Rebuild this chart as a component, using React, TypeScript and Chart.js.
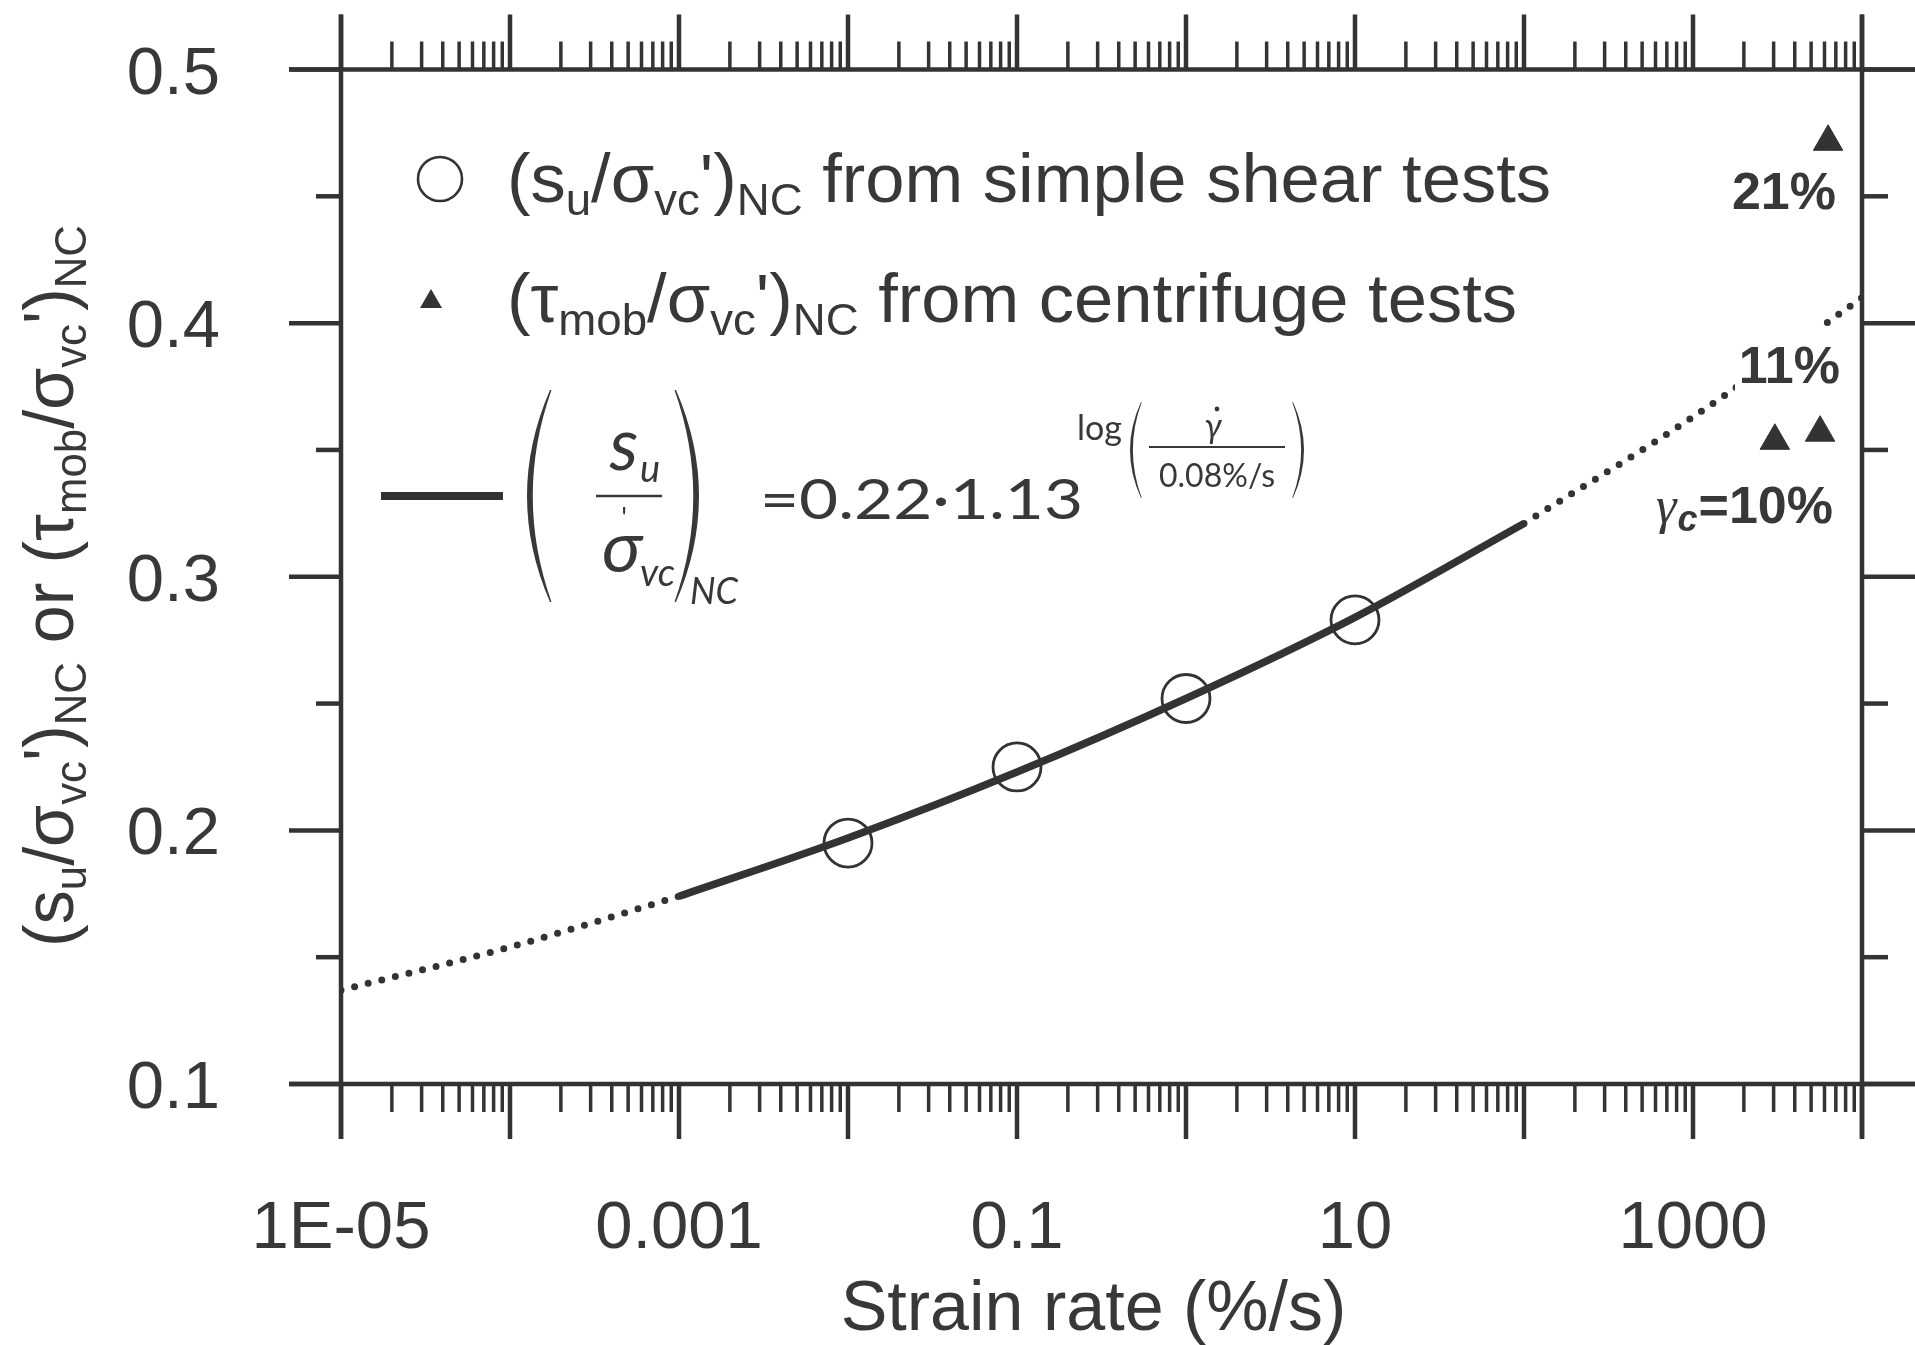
import React, { useEffect, useRef } from "react";
import { Chart, registerables } from "chart.js";

Chart.register(...registerables);

// ---------- data ----------
const X_MIN = 1e-5;
const X_MAX = 1e4;
const Y_MIN = 0.1;
const Y_MAX = 0.5;
const Y_MAJOR_TICKS = [0.1, 0.2, 0.3, 0.4, 0.5];
const Y_MINOR_TICKS = [0.15, 0.25, 0.35, 0.45];
const Y_TICK_LABELS = ["0.1", "0.2", "0.3", "0.4", "0.5"];
const X_DECADES = [-5, -4, -3, -2, -1, 0, 1, 2, 3, 4];
const X_LABEL_VALUES = [1e-5, 1e-3, 1e-1, 10, 1000];
const X_LABEL_TEXTS = ["1E-05", "0.001", "0.1", "10", "1000"];

// fitted curve (dotted / solid / dotted parts)
const FIT_LOW_X = [1e-5, 1e-4, 1e-3];
const FIT_LOW_Y = [0.137, 0.154, 0.174];
const FIT_MID_X = [1e-3, 1e-2, 1e-1, 1, 10, 100];
const FIT_MID_Y = [0.174, 0.197, 0.223, 0.252, 0.284, 0.321];
const FIT_HIGH_X = [100, 1000, 1e4];
const FIT_HIGH_Y = [0.321, 0.363, 0.41];

// simple shear tests (open circles)
const SS_X = [0.01, 0.1, 1, 10];
const SS_Y = [0.195, 0.225, 0.252, 0.283];

// centrifuge tests (filled triangles)
const CF_X = [6300, 3050, 5650];
const CF_Y = [0.4715, 0.3536, 0.3568];

const X_TITLE = "Strain rate (%/s)";

// ---------- drawing helpers ----------
const INK = "#333333";
const TXT = "#383838";
const SANS = "'Liberation Sans', Arial, sans-serif";
const MATH = "Lato, 'Open Sans', sans-serif";

type Run = { t: string; k?: "sub" | "sup" };

function measureRich(ctx: CanvasRenderingContext2D, runs: Run[], size: number, sub: number, family: string) {
  let w = 0;
  for (const r of runs) {
    ctx.font = `${r.k ? sub : size}px ${family}`;
    w += ctx.measureText(r.t).width;
  }
  return w;
}

function drawRich(
  ctx: CanvasRenderingContext2D,
  runs: Run[],
  x: number,
  y: number,
  size: number,
  sub: number,
  subShift: number,
  family: string,
  targetWidth?: number
) {
  const w = measureRich(ctx, runs, size, sub, family);
  const sx = targetWidth ? targetWidth / w : 1;
  ctx.save();
  ctx.translate(x, y);
  ctx.scale(sx, 1);
  ctx.textAlign = "left";
  ctx.textBaseline = "alphabetic";
  let cx = 0;
  for (const r of runs) {
    ctx.font = `${r.k ? sub : size}px ${family}`;
    const dy = r.k === "sub" ? subShift : r.k === "sup" ? -size * 0.4 : 0;
    ctx.fillText(r.t, cx, dy);
    cx += ctx.measureText(r.t).width;
  }
  ctx.restore();
}

function line(ctx: CanvasRenderingContext2D, x1: number, y1: number, x2: number, y2: number) {
  ctx.beginPath();
  ctx.moveTo(x1, y1);
  ctx.lineTo(x2, y2);
  ctx.stroke();
}

function paren(ctx: CanvasRenderingContext2D, xEnd: number, yTop: number, yBot: number, bulge: number, thick: number) {
  const ym = (yTop + yBot) / 2;
  const s = Math.sign(bulge);
  ctx.beginPath();
  ctx.moveTo(xEnd, yTop);
  ctx.quadraticCurveTo(xEnd + 2 * bulge, ym, xEnd, yBot);
  ctx.lineTo(xEnd - s * thick * 0.3, yBot);
  ctx.quadraticCurveTo(xEnd + 2 * bulge - 2 * thick * s, ym, xEnd - s * thick * 0.3, yTop);
  ctx.closePath();
  ctx.fill();
}

const decorPlugin = {
  id: "decor",
  afterDraw(chart: any) {
    const ctx: CanvasRenderingContext2D = chart.ctx;
    const { left, right, top, bottom } = chart.chartArea;
    const xs = chart.scales.x;
    const ys = chart.scales.y;
    const W = chart.width;
    ctx.save();
    ctx.strokeStyle = INK;
    ctx.fillStyle = INK;
    ctx.lineCap = "butt";

    // frame
    ctx.lineWidth = 4.5;
    line(ctx, left - 52, top, W, top);
    line(ctx, left - 52, bottom, W, bottom);
    line(ctx, left, top - 55, left, bottom + 55);
    line(ctx, right, top - 55, right, bottom + 55);

    // x ticks (log decades with minor ticks)
    for (const d of X_DECADES) {
      for (let k = 1; k <= 9; k++) {
        const v = k * Math.pow(10, d);
        if (v > X_MAX * 1.0001) break;
        const px = xs.getPixelForValue(v);
        const len = k === 1 ? 55 : 28;
        ctx.lineWidth = k === 1 ? 4.5 : 3.5;
        line(ctx, px, bottom, px, bottom + len);
        line(ctx, px, top, px, top - len);
      }
    }
    // y ticks
    ctx.lineWidth = 4.5;
    for (const v of Y_MAJOR_TICKS) {
      const py = ys.getPixelForValue(v);
      line(ctx, left - 52, py, left, py);
      line(ctx, right, py, W, py);
    }
    for (const v of Y_MINOR_TICKS) {
      const py = ys.getPixelForValue(v);
      line(ctx, left - 25, py, left, py);
      line(ctx, right, py, right + 26, py);
    }

    // tick labels
    ctx.fillStyle = TXT;
    ctx.textBaseline = "alphabetic";
    ctx.font = `67px ${SANS}`;
    ctx.textAlign = "right";
    Y_MAJOR_TICKS.forEach((v, i) => {
      ctx.fillText(Y_TICK_LABELS[i], 220, ys.getPixelForValue(v) + 24);
    });
    ctx.font = `67px ${SANS}`;
    ctx.textAlign = "center";
    X_LABEL_VALUES.forEach((v, i) => {
      ctx.fillText(X_LABEL_TEXTS[i], xs.getPixelForValue(v), 1248);
    });

    // x title
    ctx.font = `70px ${SANS}`;
    ctx.textAlign = "center";
    ctx.fillText(X_TITLE, (left + right) / 2 - 8, 1330);

    // y title (rotated, with subscripts)
    const yRuns: Run[] = [
      { t: "(s" }, { t: "u", k: "sub" }, { t: "/σ" }, { t: "vc", k: "sub" }, { t: "')" }, { t: "NC", k: "sub" },
      { t: " or (τ" }, { t: "mob", k: "sub" }, { t: "/σ" }, { t: "vc", k: "sub" }, { t: "')" }, { t: "NC", k: "sub" },
    ];
    const yLen = 722;
    ctx.save();
    ctx.translate(73, 586);
    ctx.rotate(-Math.PI / 2);
    drawRich(ctx, yRuns, -yLen / 2, 0, 70, 45, 13, SANS, yLen);
    ctx.restore();

    // legend
    const l1: Run[] = [
      { t: "(s" }, { t: "u", k: "sub" }, { t: "/σ" }, { t: "vc", k: "sub" }, { t: "')" }, { t: "NC", k: "sub" },
      { t: " from simple shear tests" },
    ];
    const l2: Run[] = [
      { t: "(τ" }, { t: "mob", k: "sub" }, { t: "/σ" }, { t: "vc", k: "sub" }, { t: "')" }, { t: "NC", k: "sub" },
      { t: " from centrifuge tests" },
    ];
    drawRich(ctx, l1, 507, 202, 68, 44, 13, SANS, 1044);
    drawRich(ctx, l2, 507, 322, 68, 44, 13, SANS, 1010);

    // legend markers
    ctx.lineWidth = 2.6;
    ctx.strokeStyle = INK;
    ctx.fillStyle = "#ffffff";
    ctx.beginPath();
    ctx.arc(440, 179, 22, 0, Math.PI * 2);
    ctx.fill();
    ctx.stroke();
    ctx.fillStyle = INK;
    ctx.beginPath();
    ctx.moveTo(431, 289);
    ctx.lineTo(442, 308);
    ctx.lineTo(420, 308);
    ctx.closePath();
    ctx.fill();

    // legend line + formula
    ctx.lineWidth = 8;
    line(ctx, 381, 496, 503, 496);
    ctx.fillStyle = TXT;
    paren(ctx, 550, 390, 602, -23, 5);
    paren(ctx, 676, 390, 602, 23, 5);
    ctx.textAlign = "center";
    ctx.font = `italic 72px ${MATH}`;
    ctx.fillText("s", 624, 470);
    ctx.textAlign = "left";
    ctx.font = `italic 38px ${MATH}`;
    ctx.fillText("u", 640, 482);
    ctx.lineWidth = 2.4;
    ctx.strokeStyle = TXT;
    line(ctx, 596, 496, 662, 496);
    ctx.font = `28px ${MATH}`;
    ctx.textAlign = "center";
    ctx.fillText("'", 624, 528);
    ctx.font = `italic 72px ${MATH}`;
    ctx.fillText("σ", 622, 572);
    ctx.textAlign = "left";
    ctx.font = `italic 38px ${MATH}`;
    ctx.fillText("vc", 640, 586);
    ctx.font = `italic 36px ${MATH}`;
    ctx.fillText("NC", 690, 604);
    ctx.font = `56px ${MATH}`;
    {
      const t = "=0.22·1.13";
      const w = ctx.measureText(t).width;
      ctx.save();
      ctx.translate(760, 519);
      ctx.scale(323 / w, 1);
      ctx.fillText(t, 0, 0);
      ctx.restore();
    }
    ctx.font = `34px ${MATH}`;
    ctx.fillText("log", 1077, 440);
    paren(ctx, 1141, 402, 498, -11, 2.5);
    paren(ctx, 1293, 402, 498, 11, 2.5);
    ctx.textAlign = "center";
    ctx.font = `italic 34px ${MATH}`;
    ctx.fillText("γ", 1213, 438);
    ctx.beginPath();
    ctx.arc(1217, 409, 2.4, 0, Math.PI * 2);
    ctx.fill();
    ctx.lineWidth = 2;
    line(ctx, 1149, 447, 1285, 447);
    ctx.font = `32px ${MATH}`;
    ctx.fillText("0.08%/s", 1217, 487);

    // centrifuge annotations
    ctx.textAlign = "right";
    ctx.font = `bold 52px ${SANS}`;
    const yT = ys.getPixelForValue(CF_Y[0]);
    ctx.fillText("21%", right - 26, yT + 67);
    const yPair = ys.getPixelForValue((CF_Y[1] + CF_Y[2]) / 2);
    // white box behind "11%" masks the dotted fit line, as in the figure
    ctx.save();
    ctx.fillStyle = "#ffffff";
    ctx.fillRect(1735, 326, 96, 74);
    ctx.restore();
    ctx.fillText("11%", right - 22, yPair - 54);
    ctx.fillText("=10%", right - 29, yPair + 86);
    const wEq = ctx.measureText("=10%").width;
    ctx.font = `bold italic 36px ${SANS}`;
    ctx.fillText("c", right - 29 - wEq - 1, yPair + 94);
    const wc = ctx.measureText("c").width;
    ctx.font = `italic 52px 'Liberation Serif', serif`;
    ctx.fillText("γ", right - 29 - wEq - wc - 2, yPair + 86);

    ctx.restore();
  },
};

export default function App() {
  const ref = useRef<HTMLCanvasElement | null>(null);
  useEffect(() => {
    const canvas = ref.current;
    if (!canvas) return;
    const toPts = (xs: number[], ys: number[]) => xs.map((x, i) => ({ x, y: ys[i] }));
    const dotted = {
      borderColor: INK,
      borderWidth: 7,
      borderDash: [0, 14],
      borderCapStyle: "round" as const,
      pointRadius: 0,
      fill: false,
      cubicInterpolationMode: "monotone" as const,
      showLine: true,
    };
    const chart = new Chart(canvas, {
      type: "scatter",
      data: {
        datasets: [
          { ...dotted, label: "fit low", data: toPts(FIT_LOW_X, FIT_LOW_Y) },
          {
            label: "fit",
            data: toPts(FIT_MID_X, FIT_MID_Y),
            borderColor: INK,
            borderWidth: 7.5,
            pointRadius: 0,
            showLine: true,
            fill: false,
            cubicInterpolationMode: "monotone",
          },
          { ...dotted, label: "fit high", data: toPts(FIT_HIGH_X, FIT_HIGH_Y) },
          {
            label: "simple shear",
            data: toPts(SS_X, SS_Y),
            pointRadius: 24,
            pointBackgroundColor: "#ffffff",
            pointBorderColor: INK,
            pointBorderWidth: 2.8,
            showLine: false,
          },
          {
            label: "centrifuge",
            data: toPts(CF_X, CF_Y),
            pointStyle: "triangle",
            pointRadius: 17,
            pointBackgroundColor: INK,
            pointBorderColor: INK,
            pointBorderWidth: 1,
            showLine: false,
          },
        ],
      },
      options: {
        responsive: false,
        animation: false,
        devicePixelRatio: 1,
        layout: { padding: { left: 341, right: 53, top: 69.5, bottom: 261 } },
        scales: {
          x: { type: "logarithmic", min: X_MIN, max: X_MAX, display: false },
          y: { type: "linear", min: Y_MIN, max: Y_MAX, display: false },
        },
        plugins: {
          legend: { display: false },
          tooltip: { enabled: false },
          title: { display: false },
        },
        events: [],
      },
      plugins: [decorPlugin],
    });
    return () => chart.destroy();
  }, []);

  return (
    <div style={{ position: "absolute", left: 0, top: 0, width: 1915, height: 1345, background: "#fff" }}>
      <canvas ref={ref} width={1915} height={1345} style={{ display: "block" }} />
    </div>
  );
}
